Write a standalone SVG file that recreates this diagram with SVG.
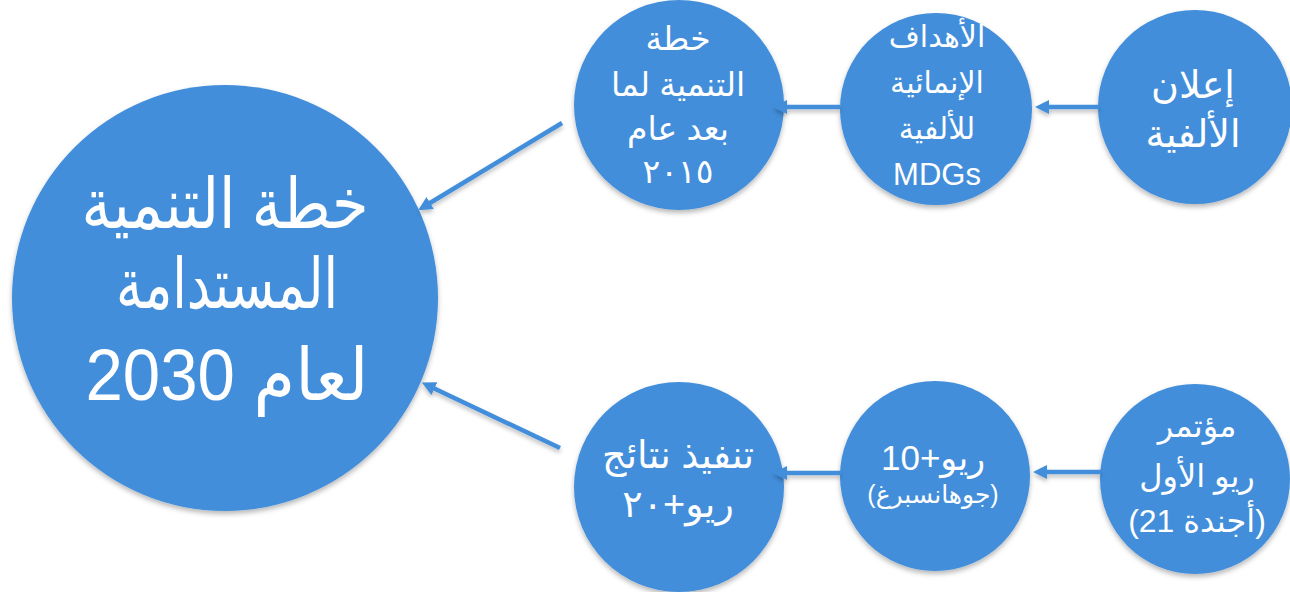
<svg xmlns="http://www.w3.org/2000/svg" width="1290" height="592" viewBox="0 0 1290 592">
<defs>
<style>
.node{fill:#428EDB;filter:url(#sh);}
.t{fill:#ffffff;font-family:"Liberation Sans","DejaVu Sans","Noto Sans",sans-serif;text-anchor:middle;direction:rtl;unicode-bidi:embed;}
.c{stroke:#428EDB;stroke-width:4.5;fill:none;}
</style>
<filter id="sh" x="-20%" y="-20%" width="140%" height="140%">
<feDropShadow dx="0" dy="3" stdDeviation="2.5" flood-color="#000" flood-opacity="0.28"/>
</filter>
<filter id="shc" filterUnits="userSpaceOnUse" x="0" y="0" width="1290" height="592">
<feDropShadow dx="0" dy="3" stdDeviation="2" flood-color="#000" flood-opacity="0.25"/>
</filter>
<marker id="ah" markerUnits="userSpaceOnUse" markerWidth="16" markerHeight="16" refX="6" refY="7" orient="auto">
<path d="M0,0 L14,7 L0,14 z" fill="#428EDB"/>
</marker>
</defs>
<rect width="1290" height="592" fill="#ffffff"/>
<g id="node-main">
<circle class="node" cx="225" cy="298" r="213"/>
<text class="t" x="225" y="228" font-size="70" textLength="287" lengthAdjust="spacingAndGlyphs">خطة التنمية</text>
<text class="t" x="227" y="308" font-size="70" textLength="222" lengthAdjust="spacingAndGlyphs">المستدامة</text>
<text class="t" x="227" y="400" font-size="72" textLength="283" lengthAdjust="spacingAndGlyphs">لعام 2030</text>
</g>
<g id="node-post2015">
<circle class="node" cx="679" cy="105" r="105"/>
<text class="t" x="678" y="50" font-size="33">خطة</text>
<text class="t" x="678" y="96" font-size="33">التنمية لما</text>
<text class="t" x="678" y="140" font-size="33">بعد عام</text>
<text class="t" x="678" y="183" font-size="33">٢٠١٥</text>
</g>
<g id="node-mdgs">
<circle class="node" cx="936" cy="109" r="96"/>
<text class="t" x="937" y="47" font-size="30">الأهداف</text>
<text class="t" x="937" y="93" font-size="30">الإنمائية</text>
<text class="t" x="937" y="139" font-size="30">للألفية</text>
<text class="t" x="937" y="185" font-size="31">MDGs</text>
</g>
<g id="node-declaration">
<circle class="node" cx="1195" cy="107" r="97"/>
<text class="t" x="1193" y="98" font-size="38">إعلان</text>
<text class="t" x="1193" y="147" font-size="38">الألفية</text>
</g>
<g id="node-rio20">
<circle class="node" cx="679" cy="487" r="105"/>
<text class="t" x="678" y="468" font-size="38">تنفيذ نتائج</text>
<text class="t" x="678" y="517" font-size="38">ريو+٢٠</text>
</g>
<g id="node-rio10">
<circle class="node" cx="935" cy="476" r="95"/>
<text class="t" x="933" y="470" font-size="35">ريو+10</text>
<text class="t" x="933" y="503" font-size="25">(جوهانسبرغ)</text>
</g>
<g id="node-rio1">
<circle class="node" cx="1195" cy="479" r="95"/>
<text class="t" x="1197" y="437" font-size="32">مؤتمر</text>
<text class="t" x="1197" y="487" font-size="32">ريو الأول</text>
<text class="t" x="1197" y="532" font-size="32">(أجندة 21)</text>
</g>
<g id="connectors" filter="url(#shc)">
<line class="c" x1="840" y1="107" x2="781" y2="107" marker-end="url(#ah)"/>
<line class="c" x1="1099" y1="107" x2="1043" y2="107" marker-end="url(#ah)"/>
<line class="c" x1="1101" y1="472" x2="1041" y2="472" marker-end="url(#ah)"/>
<line class="c" x1="841" y1="473" x2="781" y2="473" marker-end="url(#ah)"/>
<line class="c" x1="562" y1="123" x2="425" y2="206" marker-end="url(#ah)"/>
<line class="c" x1="560" y1="448" x2="429" y2="386" marker-end="url(#ah)"/>
</g>
</svg>
